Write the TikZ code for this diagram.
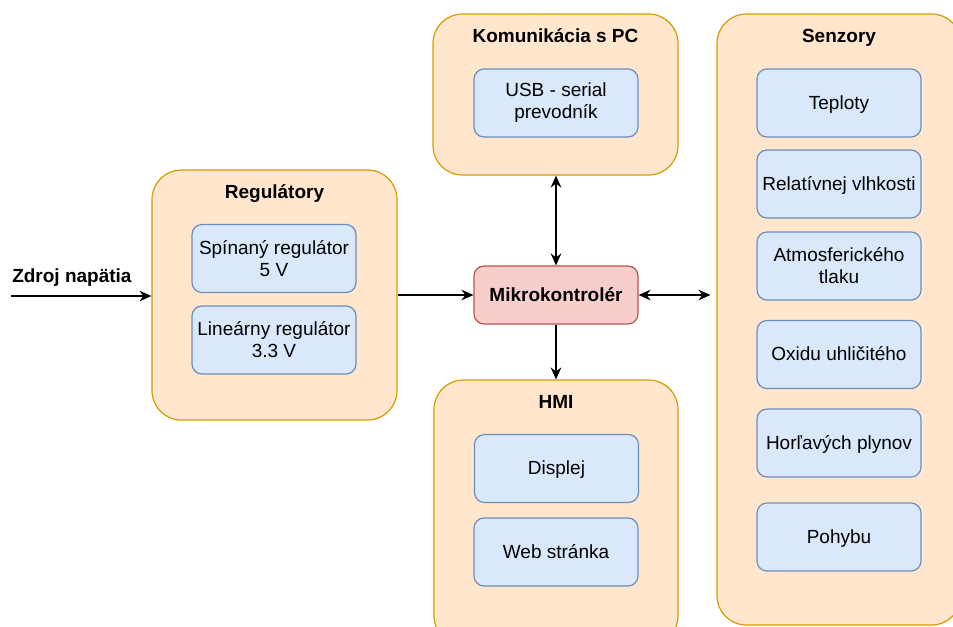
\documentclass[tikz,border=0pt]{standalone}
\usepackage{fontspec}
\setmainfont{Liberation Sans}
\usetikzlibrary{arrows.meta}
\definecolor{grpfill}{HTML}{FFE6CC}
\definecolor{grpline}{HTML}{D79B00}
\definecolor{boxfill}{HTML}{DAE8FC}
\definecolor{boxline}{HTML}{6C8EBF}
\definecolor{mcufill}{HTML}{F8CECC}
\definecolor{mculine}{HTML}{B85450}
\begin{document}
\begin{tikzpicture}[x=0.75pt,y=-0.75pt,
  every node/.style={font=\fontsize{14.25pt}{16.5pt}\selectfont, text=black},
  one/.style={text height=10pt, text depth=0.5pt},
  grp/.style={draw=grpline, fill=grpfill, line width=0.9pt, rounded corners=22pt},
  inbox/.style={draw=boxline, fill=boxfill, line width=0.9pt, rounded corners=7.5pt,
     minimum width=123pt, minimum height=51pt, align=center, inner sep=0pt},
  mcubox/.style={draw=mculine, fill=mcufill, line width=0.9pt, rounded corners=7.5pt,
     minimum width=123pt, minimum height=43.5pt, inner sep=0pt, one, font=\fontsize{14.25pt}{16.5pt}\selectfont\bfseries},
  ttl/.style={font=\fontsize{14.25pt}{16.5pt}\selectfont\bfseries, inner sep=0pt, one},
  conn/.style={line width=0.9pt, draw=black},
  tip/.style={-{Stealth[length=9pt,width=8pt,inset=3pt]}},
  dtip/.style={{Stealth[length=9pt,width=8pt,inset=3pt]}-{Stealth[length=9pt,width=8pt,inset=3pt]}}
]
\useasboundingbox (0,0) rectangle (953,626);
\clip (0,0) rectangle (953,626);

% groups
\node[grp, minimum width=183.75pt, minimum height=187.5pt] (reg) at (274.5,295) {};
\node[grp, minimum width=183.75pt, minimum height=120.75pt] (comm) at (555.5,94.5) {};
\node[grp, minimum width=183pt, minimum height=198.75pt] (hmi) at (556,512.5) {};
\node[grp, minimum width=183pt, minimum height=458.25pt] (sen) at (839,319.5) {};

% titles
\node[ttl] (regt) at (274.5,192) {Regulátory};
\node[ttl] (commt) at (555.5,36) {Komunikácia s PC};
\node[ttl] (hmit) at (556,402) {HMI};
\node[ttl] (sent) at (839,36) {Senzory};

% inner boxes
\node[inbox] (sp) at (274,258.5) {Spínaný regulátor\\5 V};
\node[inbox] (lin) at (274,340) {Lineárny regulátor\\3.3 V};
\node[inbox] (usb) at (556,103) {USB - serial\\prevodník};
\node[inbox, one] (disp) at (556.5,468.5) {Displej};
\node[inbox, one] (web) at (556,552) {Web stránka};
\node[inbox, one] (tep) at (839,103) {Teploty};
\node[inbox, one] (rel) at (839,184) {Relatívnej vlhkosti};
\node[inbox] (atm) at (839,266) {Atmosferického\\tlaku};
\node[inbox, one] (oxi) at (839,354.5) {Oxidu uhličitého};
\node[inbox, one] (hor) at (839,443) {Horľavých plynov};
\node[inbox, one] (poh) at (839,537) {Pohybu};

% microcontroller
\node[mcubox] (mcu) at (556,295) {Mikrokontrolér};

% input
\coordinate (src) at (11,296);
\node[ttl, anchor=west] (zdroj) at (12,276) {Zdroj napätia};

% connectors
\draw[conn, tip] (src) -- (src -| reg.west);
\draw[conn, tip] (reg.east |- mcu.west) -- (mcu.west);
\draw[conn, dtip] (mcu.east) -- ([xshift=-4.5pt]mcu.east -| sen.west);
\draw[conn, dtip] (mcu.north) -- (mcu.north |- comm.south);
\draw[conn, tip] (mcu.south) -- (mcu.south |- hmi.north);
\end{tikzpicture}
\end{document}
